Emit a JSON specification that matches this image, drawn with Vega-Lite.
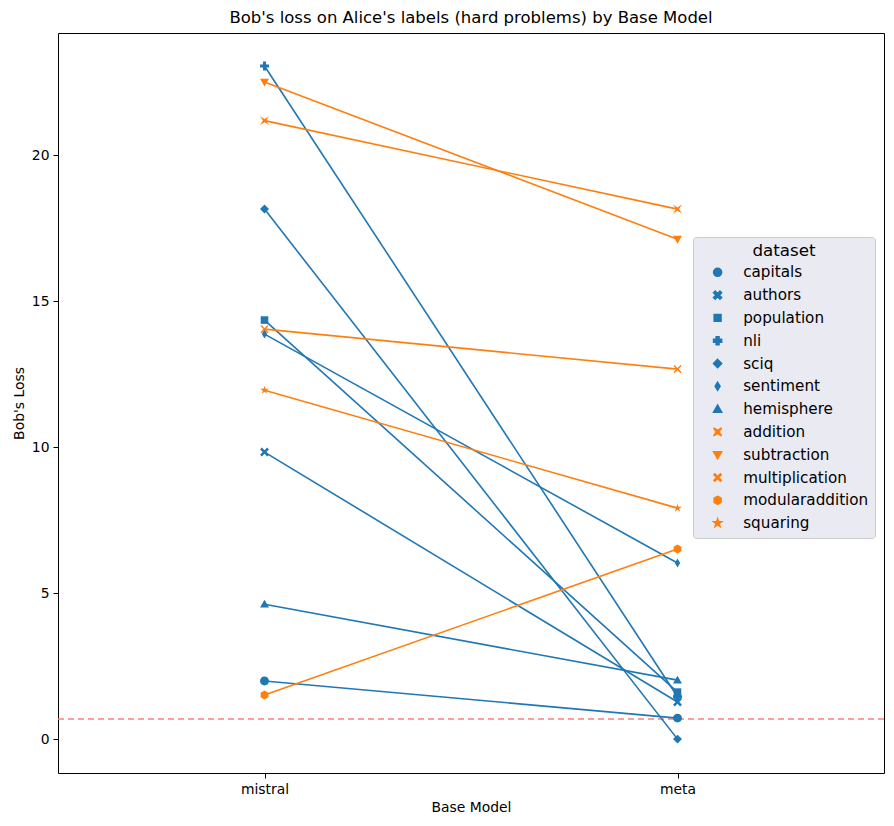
{
  "$schema": "https://vega.github.io/schema/vega-lite/v6.json",
  "width": 826,
  "height": 740,
  "autosize": {"type": "none"},
  "padding": {"left": 58, "top": 33, "right": 10, "bottom": 53},
  "title": {"text": "Bob's loss on Alice's labels (hard problems) by Base Model", "fontSize": 16.5, "fontWeight": "normal", "font": "DejaVu Sans", "offset": 7, "color": "#000000"},
  "config": {
    "font": "DejaVu Sans",
    "view": {"stroke": "#000000", "strokeWidth": 1},
    "axis": {"labelFontSize": 13.9, "titleFontSize": 13.9, "titleFontWeight": "normal", "labelColor": "#000000", "titleColor": "#000000", "tickColor": "#000000", "domain": false, "grid": false, "tickSize": 5, "labelPadding": 4, "titlePadding": 5}
  },
  "datasets": {
    "loss": [
      {"dataset": "capitals", "model": "mistral", "loss": 1.99},
      {"dataset": "capitals", "model": "meta", "loss": 0.72},
      {"dataset": "authors", "model": "mistral", "loss": 9.83},
      {"dataset": "authors", "model": "meta", "loss": 1.27},
      {"dataset": "population", "model": "mistral", "loss": 14.35},
      {"dataset": "population", "model": "meta", "loss": 1.61},
      {"dataset": "nli", "model": "mistral", "loss": 23.05},
      {"dataset": "nli", "model": "meta", "loss": 1.45},
      {"dataset": "sciq", "model": "mistral", "loss": 18.15},
      {"dataset": "sciq", "model": "meta", "loss": 0.0},
      {"dataset": "sentiment", "model": "mistral", "loss": 13.87},
      {"dataset": "sentiment", "model": "meta", "loss": 6.03},
      {"dataset": "hemisphere", "model": "mistral", "loss": 4.62},
      {"dataset": "hemisphere", "model": "meta", "loss": 2.02},
      {"dataset": "addition", "model": "mistral", "loss": 21.18},
      {"dataset": "addition", "model": "meta", "loss": 18.15},
      {"dataset": "subtraction", "model": "mistral", "loss": 22.5},
      {"dataset": "subtraction", "model": "meta", "loss": 17.12},
      {"dataset": "multiplication", "model": "mistral", "loss": 14.04},
      {"dataset": "multiplication", "model": "meta", "loss": 12.67},
      {"dataset": "modularaddition", "model": "mistral", "loss": 1.51},
      {"dataset": "modularaddition", "model": "meta", "loss": 6.51},
      {"dataset": "squaring", "model": "mistral", "loss": 11.95},
      {"dataset": "squaring", "model": "meta", "loss": 7.91}
    ],
    "ref": [{"y": 0.6931}]
  },
  "layer": [
    {
      "data": {"name": "ref"},
      "mark": {"type": "rule", "color": "#ff7f7f", "strokeDash": [6, 4], "strokeWidth": 1.5},
      "encoding": {"y": {"field": "y", "type": "quantitative"}}
    },
    {
      "data": {"name": "loss"},
      "mark": {"type": "line", "strokeWidth": 1.6},
      "encoding": {
        "x": {"field": "model", "type": "nominal", "sort": ["mistral", "meta"], "scale": {"type": "point", "domain": ["mistral", "meta"], "padding": 0.5}, "axis": {"title": "Base Model", "labelAngle": 0}},
        "y": {"field": "loss", "type": "quantitative", "scale": {"domain": [-1.16, 24.18], "nice": false, "zero": false}, "axis": {"title": "Bob's Loss", "values": [0, 5, 10, 15, 20]}},
        "color": {"field": "dataset", "type": "nominal", "title": "dataset",
          "legend": {"orient": "none", "legendX": 635, "legendY": 204, "fillColor": "#eaeaf2", "strokeColor": "#cccccc", "cornerRadius": 3, "padding": 6, "titleFontSize": 16.7, "titleFontWeight": "normal", "titleAnchor": "middle", "titleColor": "#000000", "labelFontSize": 15.2, "labelColor": "#000000", "rowPadding": 6.8, "symbolSize": 64, "symbolOffset": 11, "labelOffset": 18, "titlePadding": 5,
            "encode": {"symbols": {"update": {"shape": {"signal": "scale('shape', datum.value) + 'M-4.1,0H4.1'"}, "fill": {"signal": "scale('color', datum.value)"}, "stroke": {"signal": "scale('color', datum.value)"}, "strokeWidth": {"value": 1.6}, "fillOpacity": {"value": 1}, "opacity": {"value": 1}}}}}},
        "order": {"field": "model", "sort": "descending"}
      }
    },
    {
      "data": {"name": "loss"},
      "mark": {"type": "point", "filled": true, "opacity": 1, "size": 80},
      "encoding": {
        "x": {"field": "model", "type": "nominal", "sort": ["mistral", "meta"]},
        "y": {"field": "loss", "type": "quantitative"},
        "color": {"field": "dataset", "type": "nominal", "title": "dataset",
          "scale": {"domain": ["capitals", "authors", "population", "nli", "sciq", "sentiment", "hemisphere", "addition", "subtraction", "multiplication", "modularaddition", "squaring"],
            "range": ["#1f77b4", "#1f77b4", "#1f77b4", "#1f77b4", "#1f77b4", "#1f77b4", "#1f77b4", "#ff7f0e", "#ff7f0e", "#ff7f0e", "#ff7f0e", "#ff7f0e"]},
          "legend": {"orient": "none", "legendX": 635, "legendY": 204, "fillColor": "#eaeaf2", "strokeColor": "#cccccc", "cornerRadius": 3, "padding": 6, "titleFontSize": 16.7, "titleFontWeight": "normal", "titleAnchor": "middle", "titleColor": "#000000", "labelFontSize": 15.2, "labelColor": "#000000", "rowPadding": 6.8, "symbolSize": 64, "symbolOffset": 11, "labelOffset": 18, "titlePadding": 5,
            "encode": {"symbols": {"update": {"shape": {"signal": "scale('shape', datum.value) + 'M-4.1,0H4.1'"}, "fill": {"signal": "scale('color', datum.value)"}, "stroke": {"signal": "scale('color', datum.value)"}, "strokeWidth": {"value": 1.6}, "fillOpacity": {"value": 1}, "opacity": {"value": 1}}}}}},
        "shape": {"field": "dataset", "type": "nominal", "title": "dataset",
          "legend": {"orient": "none", "legendX": 635, "legendY": 204, "fillColor": "#eaeaf2", "strokeColor": "#cccccc", "cornerRadius": 3, "padding": 6, "titleFontSize": 16.7, "titleFontWeight": "normal", "titleAnchor": "middle", "titleColor": "#000000", "labelFontSize": 15.2, "labelColor": "#000000", "rowPadding": 6.8, "symbolSize": 64, "symbolOffset": 11, "labelOffset": 18, "titlePadding": 5,
            "encode": {"symbols": {"update": {"shape": {"signal": "scale('shape', datum.value) + 'M-4.1,0H4.1'"}, "fill": {"signal": "scale('color', datum.value)"}, "stroke": {"signal": "scale('color', datum.value)"}, "strokeWidth": {"value": 1.6}, "fillOpacity": {"value": 1}, "opacity": {"value": 1}}}}},
          "scale": {"domain": ["capitals", "authors", "population", "nli", "sciq", "sentiment", "hemisphere", "addition", "subtraction", "multiplication", "modularaddition", "squaring"],
            "range": ["M1,0A1,1,0,1,1,-1,0A1,1,0,1,1,1,0Z",
              "M-1,-0.6L-0.6,-1L0,-0.4L0.6,-1L1,-0.6L0.4,0L1,0.6L0.6,1L0,0.4L-0.6,1L-1,0.6L-0.4,0Z",
              "M-0.85,-0.85H0.85V0.85H-0.85Z",
              "M-0.35,-1H0.35V-0.35H1V0.35H0.35V1H-0.35V0.35H-1V-0.35H-0.35Z",
              "M0,-1L1,0L0,1L-1,0Z",
              "M0,-1L0.6,0L0,1L-0.6,0Z",
              "M0,-1L1,0.75L-1,0.75Z",
              "M-1,-1L0,-0.35L1,-1L0.35,0L1,1L0,0.35L-1,1L-0.35,0Z",
              "M0,1L1,-0.75L-1,-0.75Z",
              "M-0.9,-0.7L-0.7,-0.9L0,-0.25L0.7,-0.9L0.9,-0.7L0.25,0L0.9,0.7L0.7,0.9L0,0.25L-0.7,0.9L-0.9,0.7L-0.25,0Z",
              "M0,-1L0.87,-0.5L0.87,0.5L0,1L-0.87,0.5L-0.87,-0.5Z",
              "M0,-1L0.22,-0.31L0.95,-0.31L0.36,0.12L0.59,0.81L0,0.38L-0.59,0.81L-0.36,0.12L-0.95,-0.31L-0.22,-0.31Z"]}}
      }
    }
  ]
}
